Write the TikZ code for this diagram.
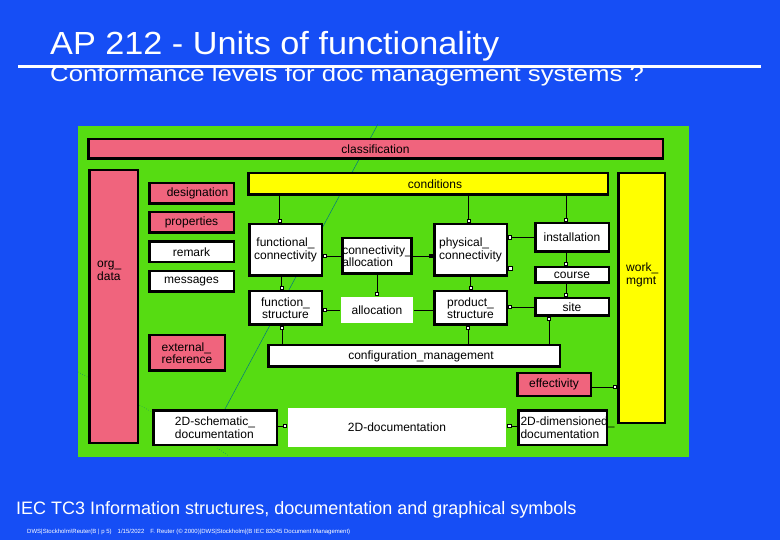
\documentclass[tikz,border=0pt]{standalone}
\usepackage{fontspec}
\setmainfont{Liberation Sans}
\newfontfamily\titlefont{Liberation Sans}[FakeStretch=1.07]
\newfontfamily\subfont{Liberation Sans}[FakeStretch=1.17]
\usetikzlibrary{positioning,arrows.meta}
\definecolor{bgblue}{RGB}{22,78,245}
\definecolor{panelgreen}{RGB}{86,220,18}
\definecolor{boxpink}{RGB}{240,100,125}
\definecolor{boxyellow}{RGB}{255,255,0}
\definecolor{scanteal}{RGB}{0,120,130}

\begin{document}
\begin{tikzpicture}[
  x=1pt,y=-1pt,
  box/.style={draw,line width=2.5pt,fill=white,inner sep=1pt,align=center,font=\fontsize{12}{12.5}\selectfont},
  pinkbox/.style={box,fill=boxpink},
  yelbox/.style={box,fill=boxyellow},
  plainbox/.style={box,draw=none},
  inlbl/.style={anchor=north west,align=left,inner sep=0pt,font=\fontsize{12}{12.5}\selectfont},
  link/.style={line width=0.8pt},
  tipend/.style={-{Square[fill=white,length=4pt,width=4pt,line width=0.7pt]}},
  tipstart/.style={{Square[fill=white,length=4pt,width=4pt,line width=0.7pt]}-},
  tipfill/.style={-{Square[length=4pt,width=4pt]}},
  sqmark/.style={draw,fill=white,line width=0.7pt,inner sep=0pt,minimum size=4pt}
]
\fill[bgblue] (0,0) rectangle (780,540);
\fill[panelgreen] (78,126) rectangle (689,457);
\draw[scanteal,line width=0.5pt] (378,124) -- (225,409);
\draw[scanteal,line width=0.5pt,dotted] (78,372) -- (152,412);
\draw[scanteal,line width=0.5pt,dotted] (217,448) -- (229,456);

\node[anchor=base west,inner sep=0pt,text=white,font=\titlefont\fontsize{32}{34}\selectfont] (title) at (50,55) {AP 212 - Units of functionality};
\node[anchor=base west,inner sep=0pt,text=white,font=\subfont\fontsize{22}{24}\selectfont] (sub) at (50,81.5) {Conformance levels for doc management systems ?};
\draw[white,line width=2.7pt] (18,66.5) -- (761,66.5);

\node[pinkbox,minimum width=574.5pt,minimum height=19.5pt] (cls) at (375.5,149) {classification};
\node[pinkbox,minimum width=48.5pt,minimum height=272.5pt,
  label={[inlbl,xshift=9pt,yshift=-92pt]north west:{org\_\\data}}] (org) at (113.5,306.5) {};
\node[pinkbox,minimum width=84.5pt,minimum height=20.5pt] (des) at (191.5,193.5) {\hspace{12pt}designation};
\node[pinkbox,minimum width=84.5pt,minimum height=20.5pt] (prop) at (191.5,222.5) {properties};
\node[box,minimum width=84.5pt,minimum height=20.5pt,below=6.5pt of prop] (rem) {remark};
\node[box,minimum width=84.5pt,minimum height=20.5pt,below=6.5pt of rem] (msg) {messages};
\node[yelbox,minimum width=359.5pt,minimum height=21.5pt] (cond) at (428,184) {\hspace{14pt}conditions};
\node[box,minimum width=72.5pt,minimum height=51.5pt] (fc) at (285.5,250) {functional\_\\connectivity};
\node[box,align=left,inner sep=0pt,minimum width=67.5pt,minimum height=35.5pt] (ca) at (377,256) {connectivity\_\\allocation};
\node[box,align=left,minimum width=72.5pt,minimum height=51.5pt] (pc) at (470.5,250) {physical\_\\connectivity};
\node[box,minimum width=72.5pt,minimum height=33.5pt] (fs) at (285.5,308) {function\_\\structure};
\node[plainbox,minimum width=72pt,minimum height=26pt] (al) at (377,310) {allocation};
\node[box,minimum width=72.5pt,minimum height=33.5pt] (ps) at (470.5,308) {product\_\\structure};
\node[box,minimum width=73.5pt,minimum height=28.5pt] (ins) at (572,237.5) {installation};
\node[box,minimum width=73.5pt,minimum height=15.5pt] (crs) at (572,275) {course};
\node[box,minimum width=73.5pt,minimum height=17.5pt] (sit) at (572,307) {site};
\node[yelbox,minimum width=46.5pt,minimum height=249.5pt,
  label={[inlbl,xshift=9pt,yshift=-91pt]north west:{work\_\\mgmt}}] (wm) at (641.5,298) {};
\node[pinkbox,align=left,minimum width=75.5pt,minimum height=35.5pt] (ext) at (187,353) {external\_\\reference};
\node[box,minimum width=291.5pt,minimum height=21.5pt] (cm) at (414,356) {\hspace{14pt}configuration\_management};
\node[pinkbox,minimum width=73.5pt,minimum height=22.5pt] (eff) at (554,384.5) {effectivity};
\node[box,align=left,minimum width=123.5pt,minimum height=34.5pt] (sch) at (215,427.5) {2D-schematic\_\\documentation};
\node[plainbox,minimum width=218pt,minimum height=39pt] (doc) at (397,427.5) {2D-documentation};
\node[box,align=left,text width=84pt,inner sep=2.25pt,minimum height=34.5pt] (dim) at (562.5,427.5) {\mbox{2D-dimensioned\_}\\documentation};

\draw[link,tipend] ([xshift=-6pt]cond.south -| fc.north) -- ([xshift=-6pt]fc.north);
\draw[link,tipend] ([xshift=-2pt]cond.south -| pc.north) -- ([xshift=-2pt]pc.north);
\draw[link,tipend] ([xshift=-6pt]cond.south -| ins.north) -- ([xshift=-6pt]ins.north);
\draw[link,tipstart] (fc.east |- ca.west) -- (ca.west);
\draw[link,tipfill] (ca.east) -- (ca.east -| pc.west);
\draw[link,tipend] (ca.south) -- (al.north);
\draw[link,tipend] ([xshift=-4pt]fc.south) -- ([xshift=-4pt]fs.north);
\draw[link,tipstart] (fs.east |- al.west) -- (al.west);
\draw[link] (al.east) -- (al.east -| ps.west);
\draw[link,tipend] (pc.south) -- (ps.north);
\draw[link,tipstart] (pc.east |- ins.west) -- (ins.west);
\node[sqmark,anchor=west] (pcm) at ([yshift=-18pt]pc.east) {};
\draw[link,tipend] ([xshift=-6pt]ins.south) -- ([xshift=-6pt]crs.north);
\draw[link,tipend] ([xshift=-6pt]crs.south) -- ([xshift=-6pt]sit.north);
\draw[link,tipstart] (ps.east |- sit.west) -- (sit.west);
\draw[link,tipstart] ([xshift=-3.5pt]fs.south) -- ([xshift=-3.5pt]fs.south |- cm.north);
\draw[link,tipstart] ([xshift=-2.5pt]ps.south) -- ([xshift=-2.5pt]ps.south |- cm.north);
\draw[link,tipstart] ([xshift=-23pt]sit.south) -- ([xshift=-23pt]sit.south |- cm.north);
\draw[link,tipend] ([yshift=-2.5pt]eff.east) -- ([yshift=-2.5pt]eff.east -| wm.west);
\draw[link,tipend] ([yshift=1.5pt]sch.east) -- ([yshift=1.5pt]sch.east -| doc.west);
\draw[link,tipend] ([yshift=1.5pt]dim.west) -- ([yshift=1.5pt]dim.west -| doc.east);

\node[anchor=base west,inner sep=0pt,text=white,font=\fontsize{18}{20}\selectfont] (iec) at (16,514) {IEC TC3 Information structures, documentation and graphical symbols};
\node[anchor=base west,inner sep=0pt,text=white,font=\fontsize{6}{7}\selectfont] (foot) at (27,533.5) {DWS|Stockholm\textbackslash Reuter(B | p 5)\quad 1/15/2022\quad F. Reuter (© 2000)|DWS|Stockholm|(B IEC 82045 Document Management)};
\end{tikzpicture}
\end{document}
